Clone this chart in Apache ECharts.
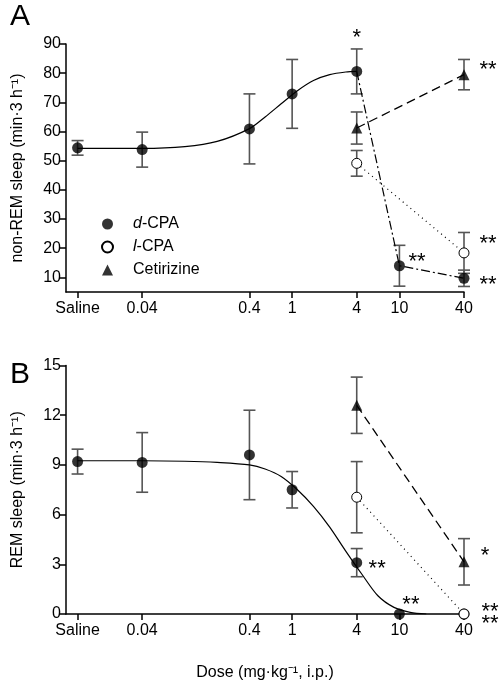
<!DOCTYPE html>
<html>
<head>
<meta charset="utf-8">
<script src="https://cdn.jsdelivr.net/npm/echarts@6/dist/echarts.min.js"></script>
<style>
html,body{margin:0;padding:0;background:#fff;}
#chart{width:502px;height:683px;}
</style>
</head>
<body>
<div id="chart"></div>
<script>
// ---------- data ----------
const doseLabels = ['Saline', '0.04', '0.4', '1', '4', '10', '40'];
const doseValues = [0.01, 0.04, 0.4, 1, 4, 10, 40]; // Saline plotted at nominal 0.01

const yTicksA = [10, 20, 30, 40, 50, 60, 70, 80, 90];
const yTicksB = [0, 3, 6, 9, 12, 15];

// Panel A: non-REM sleep
const dCpaA = [54.4, 53.8, 60.9, 72.9, 80.6, 14.0, 9.7];
const dCpaAErr = [2.5, 6.0, 12.0, 11.8, 7.7, 7.0, 2.8];
const lCpaDose = [4, 40];
const lCpaA = [49.1, 18.4];
const lCpaAErr = [4.4, 7.0];
const cetDose = [4, 40];
const cetA = [61.2, 79.5];
const cetAErr = [5.5, 5.2];
const curveADose = [0.01, 0.04, 0.1, 0.2, 0.4, 0.56, 0.79, 1.12, 1.58, 2.24, 3.16, 4];
const curveAVal = [54.2, 54.2, 54.8, 56.6, 61, 65, 69.5, 74, 77.5, 79.5, 80.4, 80.6];

// Panel B: REM sleep
const dCpaB = [9.2, 9.15, 9.6, 7.5, 3.1, 0, 0];
const dCpaBErr = [0.75, 1.8, 2.7, 1.1, 0.85, 0, 0];
const lCpaB = [7.05, 0];
const lCpaBErr = [2.15, 0];
const cetB = [12.6, 3.15];
const cetBErr = [1.7, 1.4];
const curveBDose = [0.01, 0.04, 0.1, 0.2, 0.4, 0.56, 0.79, 1.12, 1.58, 2.24, 3.16, 4.47, 6.3, 8.9, 12.6, 17.8];
const curveBVal = [9.25, 9.25, 9.22, 9.15, 9.0, 8.75, 8.3, 7.5, 6.5, 5.25, 3.8, 2.4, 1.1, 0.4, 0.1, 0];

// significance marks (anchor dose, anchor value, text)
const annADose = [4, 67, 14.6, 67, 67];
const annAVal = [92.2, 81.0, 15.3, 21.4, 7.5];
const annAText = ['*', '**', '**', '**', '**'];
const annBDose = [6.2, 12.8, 62.8, 69.8, 69.8];
const annBVal = [2.7, 0.52, 3.48, 0.1, -0.62];
const annBText = ['**', '**', '*', '**', '**'];

// ---------- helpers ----------
const lx = d => Math.log10(d);
const FONT = 'Liberation Sans, Arial, Helvetica, sans-serif';
const xTickPos = doseValues.map(lx);
function xLabel(v) {
  let best = 0, bd = Infinity;
  xTickPos.forEach((p, i) => { const d = Math.abs(p - v); if (d < bd) { bd = d; best = i; } });
  return doseLabels[best];
}
const pts = (ds, vs) => ds.map((d, i) => [lx(d), vs[i]]);
const errPts = (ds, vs, es) => ds.map((d, i) => [lx(d), vs[i], es[i]]);

function renderErr(params, api) {
  const x = api.value(0), y = api.value(1), e = api.value(2);
  if (!e) return null;
  const t = api.coord([x, y + e]);
  const b = api.coord([x, y - e]);
  const hw = 6;
  const st = { stroke: '#555', lineWidth: 1.6 };
  return {
    type: 'group',
    children: [
      { type: 'line', shape: { x1: t[0], y1: t[1], x2: b[0], y2: b[1] }, style: st },
      { type: 'line', shape: { x1: t[0] - hw, y1: t[1], x2: t[0] + hw, y2: t[1] }, style: st },
      { type: 'line', shape: { x1: b[0] - hw, y1: b[1], x2: b[0] + hw, y2: b[1] }, style: st }
    ]
  };
}
function makeAnn(texts) {
  return function (params, api) {
    const c = api.coord([api.value(0), api.value(1)]);
    return {
      type: 'text',
      style: {
        x: c[0], y: c[1], text: texts[api.value(2)],
        fill: '#000', font: '22px ' + FONT, align: 'center', verticalAlign: 'middle'
      }
    };
  };
}

const xMin = -2.108, xMax = lx(40);
function xAxis(gridIndex, withName) {
  return {
    type: 'value', gridIndex, min: xMin, max: xMax,
    name: withName ? 'Dose (mg·kg⁻¹, i.p.)' : '',
    nameLocation: 'middle', nameGap: 51,
    nameTextStyle: { fontFamily: FONT, fontSize: 16, color: '#000' },
    axisLine: { show: true, onZero: false, lineStyle: { color: '#000', width: 1.5 } },
    axisTick: { show: true, length: 6, customValues: xTickPos, lineStyle: { color: '#000', width: 1.5 } },
    axisLabel: { customValues: xTickPos, formatter: xLabel, fontFamily: FONT, fontSize: 16, color: '#000', margin: 9 },
    splitLine: { show: false }
  };
}
function yAxis(gridIndex, min, max, ticks, name) {
  return {
    type: 'value', gridIndex, min, max,
    name, nameLocation: 'middle', nameGap: 40,
    nameTextStyle: { fontFamily: FONT, fontSize: 16, color: '#000' },
    axisLine: { show: true, onZero: false, lineStyle: { color: '#000', width: 1.5 } },
    axisTick: { show: true, length: 6, customValues: ticks, lineStyle: { color: '#000', width: 1.5 } },
    axisLabel: { customValues: ticks, fontFamily: FONT, fontSize: 16, color: '#000', margin: 5 },
    splitLine: { show: false }
  };
}

const filled = { color: '#000' };
const open = { color: '#fff', borderColor: '#000', borderWidth: 1, opacity: 1 };

const series = [];
function panel(gi, curveD, curveV, dVals, dErr, lVals, lErr, cVals, cErr, dashDot, annD, annV, annT) {
  const base = { xAxisIndex: gi, yAxisIndex: gi };
  series.push(Object.assign({ type: 'custom', renderItem: renderErr, z: 1, silent: true,
    data: errPts(doseValues, dVals, dErr).concat(errPts(lCpaDose, lVals, lErr)).concat(errPts(cetDose, cVals, cErr)) }, base));
  series.push(Object.assign({ type: 'line', data: pts(curveD, curveV), smooth: 0.3,
    showSymbol: false, symbol: 'none', lineStyle: { color: '#000', width: 1.2 }, z: 2, silent: true }, base));
  if (dashDot) {
    series.push(Object.assign({ type: 'line', data: pts(doseValues.slice(4), dVals.slice(4)), symbol: 'none',
      lineStyle: { color: '#000', width: 1.2, type: [9, 3, 2, 3] }, z: 2, silent: true }, base));
  }
  series.push(Object.assign({ type: 'line', data: pts(lCpaDose, lVals), symbol: 'none',
    lineStyle: { color: '#000', width: 1.2, type: [1, 4] }, z: 2, silent: true }, base));
  series.push(Object.assign({ type: 'line', data: pts(cetDose, cVals), symbol: 'none',
    lineStyle: { color: '#000', width: 1.3, type: [9, 5] }, z: 2, silent: true }, base));
  series.push(Object.assign({ name: 'd-CPA', type: 'scatter', data: pts(doseValues, dVals), symbol: 'circle',
    symbolSize: 11, itemStyle: filled, z: 5, clip: false }, base));
  series.push(Object.assign({ name: 'l-CPA', type: 'scatter', data: pts(lCpaDose, lVals), symbol: 'circle',
    symbolSize: 10, itemStyle: open, z: 6, clip: false }, base));
  series.push(Object.assign({ name: 'Cetirizine', type: 'scatter', data: pts(cetDose, cVals), symbol: 'triangle',
    symbolSize: 11, itemStyle: filled, z: 5, clip: false }, base));
  series.push(Object.assign({ type: 'custom', renderItem: makeAnn(annT), z: 7, silent: true, clip: false,
    data: annD.map((d, i) => [lx(d), annV[i], i]) }, base));
}
panel(0, curveADose, curveAVal, dCpaA, dCpaAErr, lCpaA, lCpaAErr, cetA, cetAErr, true, annADose, annAVal, annAText);
panel(1, curveBDose, curveBVal, dCpaB, dCpaBErr, lCpaB, lCpaBErr, cetB, cetBErr, false, annBDose, annBVal, annBText);

const chart = echarts.init(document.getElementById('chart'), null, { renderer: 'canvas' });
chart.setOption({
  animation: false,
  backgroundColor: '#fff',
  grid: [
    { left: 66, top: 44, width: 398, height: 248 },
    { left: 66, top: 365.5, width: 398, height: 248.5 }
  ],
  xAxis: [xAxis(0, false), xAxis(1, true)],
  yAxis: [
    yAxis(0, 5, 90, yTicksA, 'non-REM sleep (min·3 h⁻¹)'),
    yAxis(1, 0, 15, yTicksB, 'REM sleep (min·3 h⁻¹)')
  ],
  legend: {
    data: ['d-CPA', 'l-CPA', 'Cetirizine'],
    orient: 'vertical', left: 96, top: 211,
    itemWidth: 11, itemHeight: 11, itemGap: 7,
    selectedMode: false,
    formatter: n => n === 'd-CPA' ? '{s|}{i|d}-CPA' : (n === 'l-CPA' ? '{s|}{i|l}-CPA' : '{s|}' + n),
    textStyle: { fontFamily: FONT, fontSize: 16, color: '#000',
      rich: {
        s: { width: 15 },
        i: { fontFamily: FONT, fontSize: 16, fontStyle: 'italic', color: '#000' }
      } }
  },
  graphic: [
    { type: 'text', left: 10, top: 2, style: { text: 'A', font: '30px ' + FONT, fill: '#000' } },
    { type: 'text', left: 10, top: 360, style: { text: 'B', font: '30px ' + FONT, fill: '#000' } }
  ],
  series
});
</script>
</body>
</html>
